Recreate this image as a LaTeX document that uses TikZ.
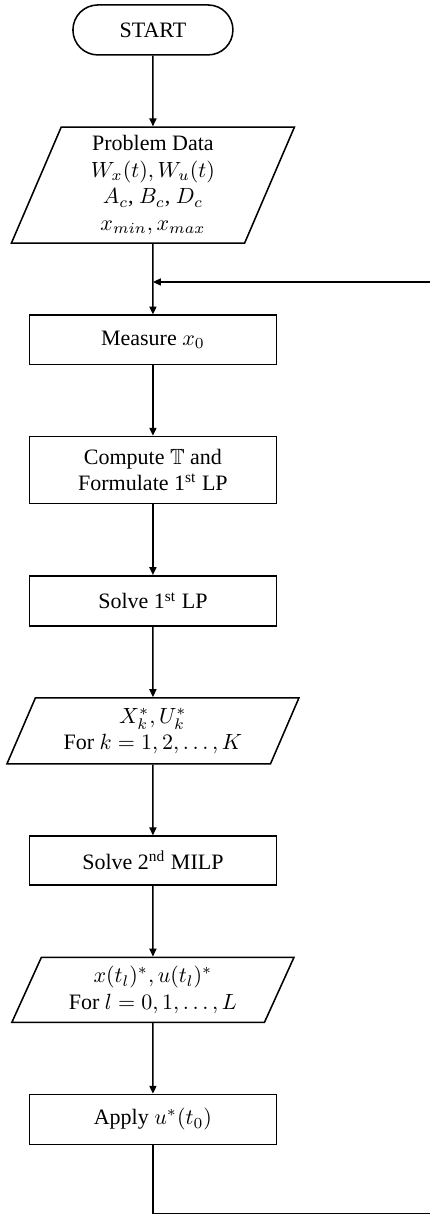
\documentclass[tikz,border=0pt]{standalone}
\usepackage{amsmath,amssymb}
\usepackage{fontspec}
\setmainfont{Liberation Serif}
\usetikzlibrary{arrows.meta,positioning,shapes.geometric,calc}

\begin{document}
\begin{tikzpicture}[
  >={Triangle[length=3.6pt,width=3.2pt]},
  line width=0.7pt,
  node distance=32.1pt,
  terminal/.style={draw, rectangle, rounded corners=11.3pt, minimum width=72.7pt, minimum height=22.7pt},
  process/.style={draw, rectangle, minimum width=112.3pt, minimum height=22.3pt, align=center},
  io/.style={draw, trapezium, trapezium left angle=#1, trapezium right angle=180-#1, trapezium stretches body=true, align=center, inner xsep=1pt},
  arrow/.style={->}
]
\useasboundingbox (-69.5pt,13.6pt) rectangle (125.9pt,-539pt);
\node[terminal] (start) at (0,0) {START};
\node[io=66.3, below=of start, minimum height=52.7pt, minimum width=128.6pt] (data) {Problem Data\\ $W_x(t), W_u(t)$\\ $A_c$, $B_c$, $D_c$\\ $x_{min}, x_{max}$};
\node[process, below=of data] (measure) {Measure $x_0$};
\node[process, below=of measure, minimum height=30.5pt] (compute) {Compute $\mathbb{T}$ and\\ Formulate 1\textsuperscript{st} LP};
\node[process, below=of compute, minimum height=22.7pt] (solvelp) {Solve 1\textsuperscript{st} LP};
\node[io=64.8, below=of solvelp, minimum height=30pt, minimum width=132.7pt] (traj) {$X_k^*, U_k^*$\\ For $k=1,2,\ldots,K$};
\node[process, below=of traj] (solvemilp) {Solve 2\textsuperscript{nd} MILP};
\node[io=64.5, below=of solvemilp, minimum height=29.5pt, minimum width=128.2pt] (sample) {$x(t_l)^*, u(t_l)^*$\\ For $l=0,1,\ldots,L$};
\node[process, below=of sample, minimum height=22.7pt] (apply) {Apply $u^*(t_0)$};
% feedback loop
\coordinate (merge) at ($(data.south)!0.54!(measure.north)$);
\coordinate[below=31pt of apply] (loopbot);
\coordinate (back) at (126.6pt,0);
\draw[arrow] (start) -- (data);
\draw[arrow] (data) -- (measure);
\draw[arrow] (measure) -- (compute);
\draw[arrow] (compute) -- (solvelp);
\draw[arrow] (solvelp) -- (traj);
\draw[arrow] (traj) -- (solvemilp);
\draw[arrow] (solvemilp) -- (sample);
\draw[arrow] (sample) -- (apply);
\draw[arrow] (apply) -- (loopbot) -| (back |- merge) -- (merge);
\end{tikzpicture}
\end{document}
